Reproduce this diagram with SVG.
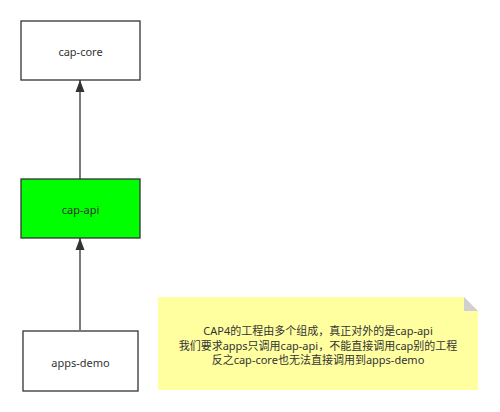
<svg xmlns="http://www.w3.org/2000/svg" width="500" height="412" viewBox="0 0 500 412">
<style>
.box{stroke:#333;stroke-width:1.3}
.lbl{font-family:"Noto Sans","Noto Sans CJK SC",sans-serif;font-size:11px;fill:#333;text-anchor:middle;dominant-baseline:central}
.edge{stroke:#333;stroke-width:1.3;fill:none}
</style>
<defs>
<marker id="arr" viewBox="0 0 12 10" refX="12" refY="5" markerWidth="12" markerHeight="10" markerUnits="userSpaceOnUse" orient="auto">
<path d="M0,0.5 L12,5 L0,9.5 Z" fill="#333"/>
</marker>
</defs>
<rect width="500" height="412" fill="#fff"/>
<g id="connectors">
<path class="edge" d="M80,330 V238" marker-end="url(#arr)"/>
<path class="edge" d="M80,179 V80" marker-end="url(#arr)"/>
</g>
<g id="cap-core">
<rect class="box" x="21" y="21" width="119" height="59" fill="#fff"/>
<text class="lbl" x="80.5" y="51">cap-core</text>
</g>
<g id="cap-api">
<rect class="box" x="21" y="179" width="119" height="59" fill="#00ff00"/>
<text class="lbl" x="80.5" y="209">cap-api</text>
</g>
<g id="apps-demo">
<rect class="box" x="23" y="331" width="115" height="60" fill="#fff"/>
<text class="lbl" x="80.5" y="362">apps-demo</text>
</g>
<g id="note">
<path d="M158,297 H464 L478,311 V390 H158 Z" fill="#ffffa0"/>
<path d="M464,297 L478,311 H464 Z" fill="#d0d0d0"/>
<text class="lbl" x="318" y="330">CAP4的工程由多个组成，真正对外的是cap-api</text>
<text class="lbl" x="318" y="345">我们要求apps只调用cap-api，不能直接调用cap别的工程</text>
<text class="lbl" x="318" y="359">反之cap-core也无法直接调用到apps-demo</text>
</g>
</svg>
